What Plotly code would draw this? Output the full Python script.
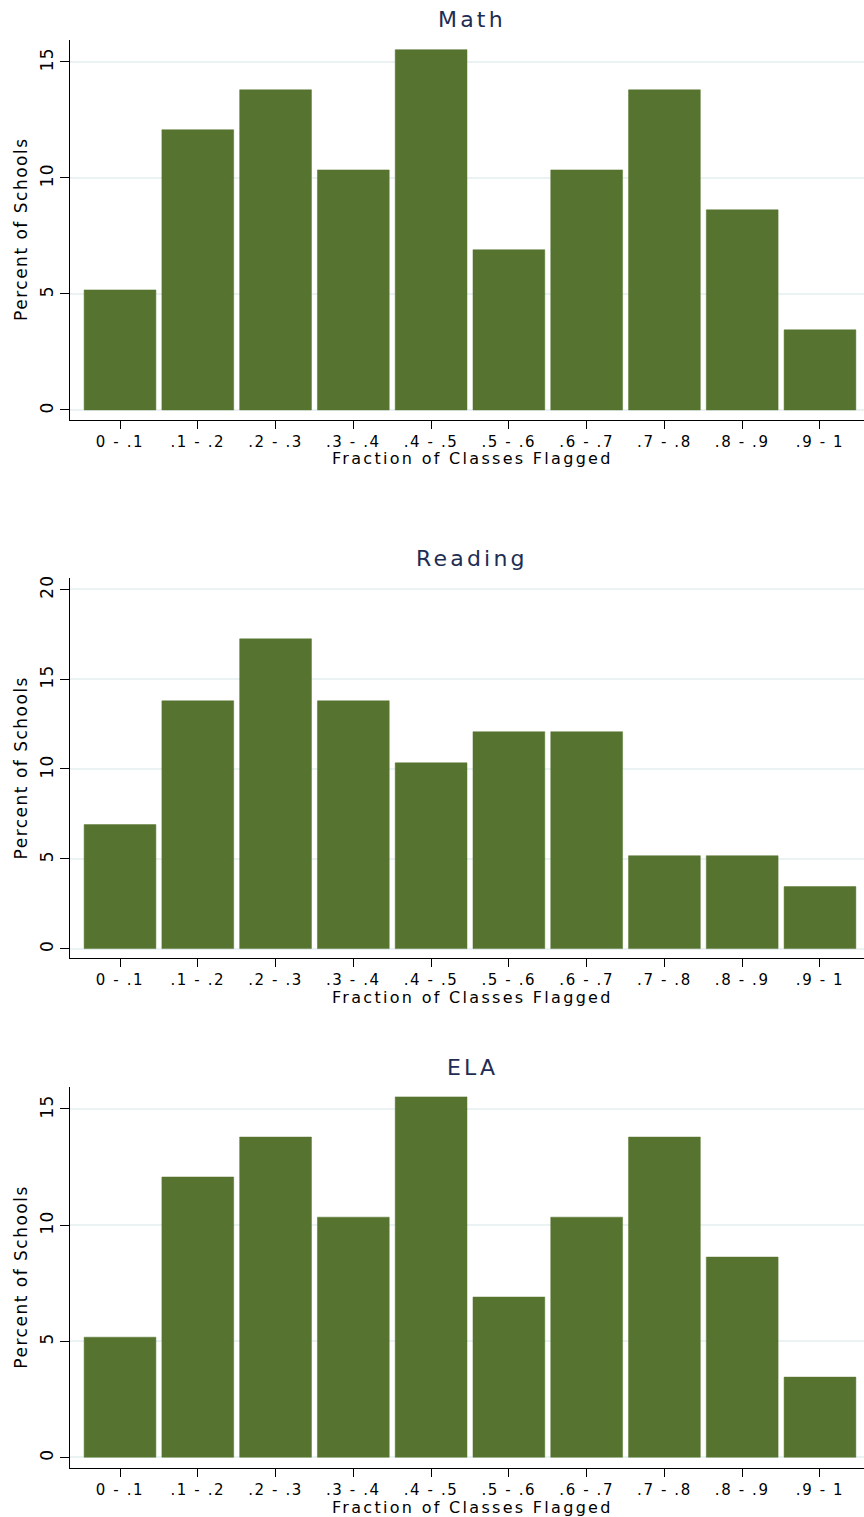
import plotly.graph_objects as go

categories = ["0 - .1", ".1 - .2", ".2 - .3", ".3 - .4", ".4 - .5",
              ".5 - .6", ".6 - .7", ".7 - .8", ".8 - .9", ".9 - 1"]
math_pct = [5.17, 12.07, 13.79, 10.34, 15.52, 6.90, 10.34, 13.79, 8.62, 3.45]
reading_pct = [6.90, 13.79, 17.24, 13.79, 10.34, 12.07, 12.07, 5.17, 5.17, 3.45]
ela_pct = [5.17, 12.07, 13.79, 10.34, 15.52, 6.90, 10.34, 13.79, 8.62, 3.45]
titles = ["Math", "Reading", "ELA"]
y_ticks = [[0, 5, 10, 15], [0, 5, 10, 15, 20], [0, 5, 10, 15]]
x_title = "Fraction of Classes Flagged"
y_title = "Percent of Schools"

W, H = 864, 1517
BAR = "#56742F"
FONT = "DejaVu Sans, Liberation Sans, Arial, sans-serif"


def spaced(text, px):
    return '<span style="letter-spacing:%.1fpx">%s</span>' % (px, text)


# pixel layout of each panel: (top, bottom, y range)
panels = [
    (36, 417, [-0.43, 15.94]),
    (576, 957, [-0.55, 20.6]),
    (1086, 1468, [-0.47, 15.94]),
]
x_left = 70
x_range = [-0.643, 9.566]
title_x = 472 / W

fig = go.Figure()
series = [math_pct, reading_pct, ela_pct]
annotations = []
for i, (vals, (top, bot, yr)) in enumerate(zip(series, panels)):
    n = "" if i == 0 else str(i + 1)
    fig.add_trace(go.Bar(
        x=categories, y=vals, marker=dict(color=BAR, line=dict(color=BAR, width=0.5)),
        xaxis="x" + n, yaxis="y" + n, showlegend=False,
    ))
    dom_y = [1 - bot / H, 1 - top / H]
    fig.update_layout(**{
        "xaxis" + n: dict(
            domain=[x_left / W, 1], anchor="y" + n, type="category",
            range=x_range, showline=True, linecolor="black", linewidth=1,
            ticks="outside", ticklen=8, tickcolor="black", showgrid=False,
            tickvals=categories, ticktext=[spaced(c, 1.6) for c in categories],
            tickfont=dict(family=FONT, size=15, color="black"), fixedrange=True,
        ),
        "yaxis" + n: dict(
            domain=dom_y, anchor="x" + n, range=yr,
            tickvals=y_ticks[i], ticktext=[spaced(str(v), 1.2) for v in y_ticks[i]],
            showline=True, linecolor="black", linewidth=1,
            ticks="outside", ticklen=9, tickcolor="black",
            tickangle=-90, showgrid=True, gridcolor="#EAF2F3", gridwidth=1.5,
            zeroline=False,
            tickfont=dict(family=FONT, size=17, color="black"),
        ),
    })
    annotations.append(dict(
        text=spaced(titles[i], 3.2), x=title_x, y=1 - (top - 20) / H,
        xref="paper", yref="paper", showarrow=False, yanchor="middle",
        font=dict(family=FONT, size=22, color="#1E2D53"),
    ))
    annotations.append(dict(
        text=spaced(x_title, 2.3), x=title_x,
        y=1 - (bot + 39) / H, xref="paper", yref="paper", showarrow=False,
        yanchor="middle", font=dict(family=FONT, size=16, color="black"),
    ))
    annotations.append(dict(
        text=spaced(y_title, 1.5), x=21 / W, y=1 - (top + bot) / 2 / H,
        xref="paper", yref="paper", showarrow=False, textangle=-90,
        xanchor="center", yanchor="middle",
        font=dict(family=FONT, size=17, color="black"),
    ))

fig.update_layout(
    width=W, height=H, margin=dict(l=0, r=0, t=0, b=0),
    paper_bgcolor="white", plot_bgcolor="white", bargap=0.077,
    annotations=annotations,
)
fig.write_html(
    "out.html",
    config={"displayModeBar": False},
    post_script="document.body.style.margin='0';document.body.style.overflow='hidden';",
)
